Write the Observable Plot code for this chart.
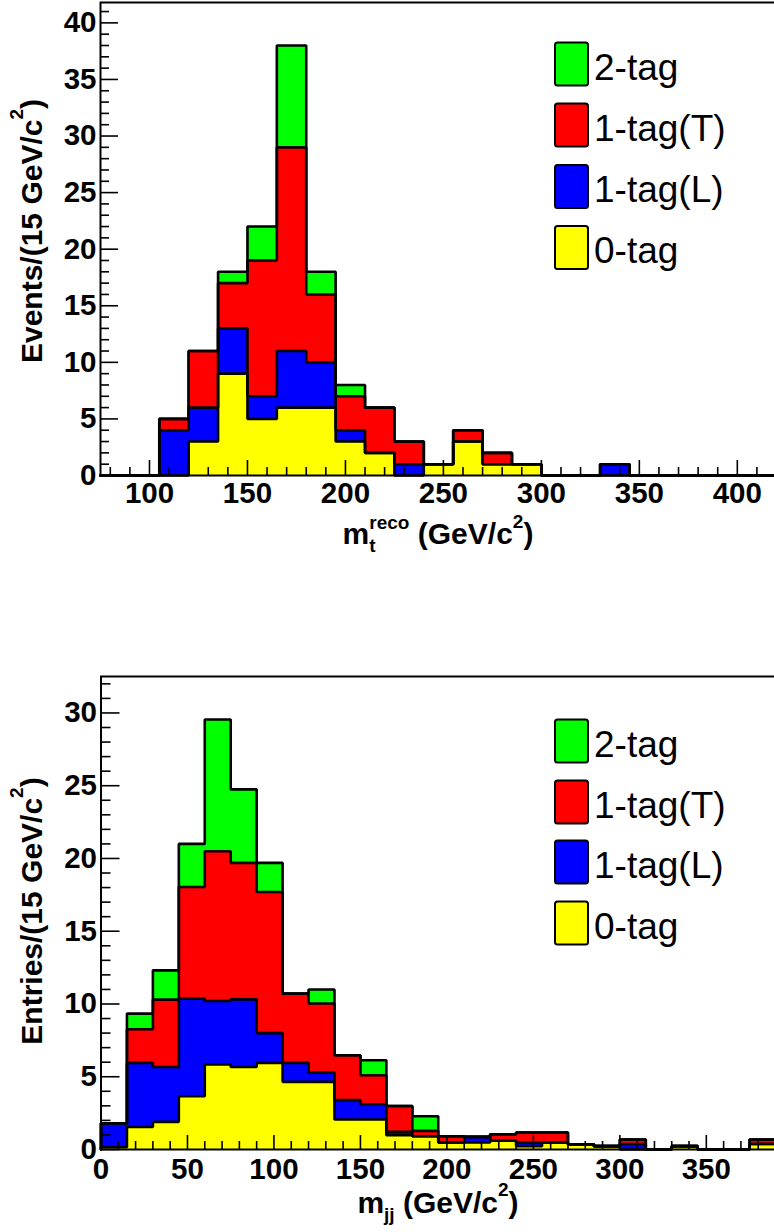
<!DOCTYPE html>
<html><head><meta charset="utf-8">
<script src="https://cdn.jsdelivr.net/npm/d3@7"></script>
<script src="https://cdn.jsdelivr.net/npm/@observablehq/plot@0.6"></script>
<style>
html,body{margin:0;padding:0;background:#fff;overflow:hidden;}
#wrap{width:774px;}
#wrap svg{display:block;}
</style></head><body><div id="wrap"></div>
<script>
const FONT = "Liberation Sans, Arial, Helvetica, sans-serif";
const tagNames = ["0-tag", "1-tag(L)", "1-tag(T)", "2-tag"];
const tagColors = ["#ffff00", "#0000ff", "#ff0000", "#00ff00"];
const binWidth = 15;

// ---- top panel: m_t^reco ----
const topBinLow = [75,90,105,120,135,150,165,180,195,210,225,240,255,270,285,300,315,330,345,360,375,390,405];
const top0tag  = [0,0,0,3,9,5,6,6,3,2,0,1,3,1,1,0,0,0,0,0,0,0,0];
const top1tagL = [0,0,4,3,4,2,5,4,1,0,1,0,0,0,0,0,0,1,0,0,0,0,0];
const top1tagT = [0,0,1,5,4,12,18,6,3,4,2,0,1,1,0,0,0,0,0,0,0,0,0];
const top2tag  = [0,0,0,0,1,3,9,2,1,0,0,0,0,0,0,0,0,0,0,0,0,0,0];
const topXTicks = [100,150,200,250,300,350,400];
const topYTicks = [0,5,10,15,20,25,30,35,40];

// ---- bottom panel: m_jj ----
const botBinLow = [0,15,30,45,60,75,90,105,120,135,150,165,180,195,210,225,240,255,270,285,300,315,330,345,360,375];
const bot0tag  = [0.15,1.55,1.9,3.66,5.84,5.67,5.95,4.65,4.65,2.06,2.06,0.98,0.91,0.48,0.48,0.6,0.23,0.48,0.36,0.23,0,0,0.23,0,0,0.38];
const bot1tagL = [1.65,4.4,3.77,6.71,4.36,4.65,2.05,1.3,0.64,1.33,1.05,0.23,0,0,0.39,0,0.25,0,0,0,0.38,0,0,0,0,0];
const bot1tagT = [0,2.31,4.63,7.67,10.3,9.38,9.7,4.76,4.74,3.09,1.99,1.78,0.37,0.43,0,0.45,0.69,0.69,0,0,0.31,0,0,0,0,0.31];
const bot2tag  = [0,1.08,2.01,2.96,9.05,5.05,2.0,0,0.97,0,1.03,0,1.01,0,0,0,0,0,0,0,0,0,0,0,0,0];
const botXTicks = [0,50,100,150,200,250,300,350];
const botYTicks = [0,5,10,15,20,25,30];

function makeChart(cfg) {
  const {binLow, series, xTicks, yTicks, xMinorStep, yMinorStep, height, marginTop, marginBottom, marginLeft, marginRight} = cfg;
  const n = binLow.length;
  const xDomain = [binLow[0], binLow[n - 1] + binWidth];
  let run = new Array(n).fill(0);
  const cum = series.map(s => (run = run.map((v, i) => v + s[i])));
  const yMax = d3.max(cum[cum.length - 1]) * 1.1;
  const pts = cum.map(c => {
    const p = [{x: binLow[0], y: 0}];
    for (let i = 0; i < n; i++) p.push({x: binLow[i], y: c[i]});
    p.push({x: xDomain[1], y: c[n - 1]});
    p.push({x: xDomain[1], y: 0});
    return p;
  });
  const plotW = 774 - marginLeft - marginRight;
  const plotH = height - marginTop - marginBottom;
  const xMinor = d3.range(Math.ceil(xDomain[0] / xMinorStep) * xMinorStep, xDomain[1] + 1e-9, xMinorStep).filter(v => !xTicks.includes(v));
  const yMinor = d3.range(0, yMax + 1e-9, yMinorStep).filter(v => !yTicks.includes(v));
  const marks = [];
  for (let k = cum.length - 1; k >= 0; k--)
    marks.push(Plot.areaY(pts[k], {x: "x", y: "y", curve: "step-after", fill: tagColors[k]}));
  for (let k = cum.length - 1; k >= 0; k--)
    marks.push(Plot.lineY(pts[k], {x: "x", y: "y", curve: "step-after", stroke: "black", strokeWidth: 2.6, strokeLinejoin: "miter"}));
  marks.push(Plot.tickX(xMinor, {x: d => d, stroke: "black", strokeWidth: 1.6, insetTop: plotH - cfg.xMinorLen}));
  marks.push(Plot.tickX(xTicks, {x: d => d, stroke: "black", strokeWidth: 1.6, insetTop: plotH - cfg.xMajorLen}));
  marks.push(Plot.tickY(yMinor, {y: d => d, stroke: "black", strokeWidth: 1.6, insetRight: plotW - cfg.yMinorLen}));
  marks.push(Plot.tickY(yTicks, {y: d => d, stroke: "black", strokeWidth: 1.6, insetRight: plotW - cfg.yMajorLen}));
  marks.push(Plot.frame({stroke: "black", strokeWidth: 2}));
  marks.push(Plot.text(xTicks, {x: d => d, y: d => 0, text: d => String(d), lineAnchor: "top", dy: cfg.xLabelDy, fontSize: 29.5, fontWeight: "bold", fontFamily: FONT, fill: "black"}));
  marks.push(Plot.text(yTicks, {x: d => xDomain[0], y: d => d, text: d => String(d), textAnchor: "end", dx: -4, fontSize: 29.5, fontWeight: "bold", fontFamily: FONT, fill: "black"}));
  const svg = Plot.plot({
    width: 774, height, marginTop, marginBottom, marginLeft, marginRight,
    x: {domain: xDomain, axis: null},
    y: {domain: [0, yMax], axis: null},
    style: {background: "white", fontFamily: FONT, maxWidth: "none"},
    marks
  });
  const s = d3.select(svg);
  function richText(g, segs) {
    segs.forEach(sg => {
      const t = g.append("tspan").text(sg.t).attr("font-size", sg.size);
      if (sg.dx) t.attr("dx", sg.dx);
      if (sg.dy) t.attr("dy", sg.dy);
    });
  }
  const xt = s.append("text").attr("x", cfg.xTitleX).attr("y", cfg.xTitleY)
    .attr("text-anchor", "middle").attr("font-family", FONT).attr("font-weight", "bold").attr("fill", "black");
  richText(xt, cfg.xTitle);
  const yt = s.append("text").attr("transform", `translate(${cfg.yTitleX},${cfg.yTitleY}) rotate(-90)`)
    .attr("text-anchor", "middle").attr("font-family", FONT).attr("font-weight", "bold").attr("fill", "black");
  richText(yt, cfg.yTitle);
  // legend
  const order = [3, 2, 1, 0];
  order.forEach((k, i) => {
    const cy = cfg.legendRows[i];
    s.append("rect").attr("x", 555).attr("y", cy - 21.5).attr("width", 33).attr("height", 43)
      .attr("rx", 2.5).attr("fill", tagColors[k]).attr("stroke", "black").attr("stroke-width", 2);
    s.append("text").attr("x", 594).attr("y", cy + 15.5).attr("font-family", FONT)
      .attr("text-anchor", "start").attr("font-weight", "normal")
      .attr("font-size", 37).attr("fill", "black").text(tagNames[k]);
  });
  return svg;
}

const wrap = document.getElementById("wrap");
wrap.appendChild(makeChart({
  binLow: topBinLow, series: [top0tag, top1tagL, top1tagT, top2tag],
  xTicks: topXTicks, yTicks: topYTicks, xMinorStep: 10, yMinorStep: 1,
  height: 616, marginTop: 2, marginBottom: 141, marginLeft: 100, marginRight: -2,
  xMajorLen: 15, xMinorLen: 8, yMajorLen: 18, yMinorLen: 9, xLabelDy: 7,
  xTitleX: 438, xTitleY: 544,
  xTitle: [{t: "m", size: 30}, {t: "t", size: 19, dy: 8}, {t: "reco", size: 19, dx: -6.3, dy: -23},
           {t: " (GeV/c", size: 30, dy: 15}, {t: "2", size: 19, dy: -16}, {t: ")", size: 30, dy: 16}],
  yTitleX: 42, yTitleY: 231,
  yTitle: [{t: "Events/(15 GeV/c", size: 30}, {t: "2", size: 19, dy: -19}, {t: ")", size: 30, dy: 19}],
  legendRows: [64, 125, 186.5, 247.5]
}));
wrap.appendChild(makeChart({
  binLow: botBinLow, series: [bot0tag, bot1tagL, bot1tagT, bot2tag],
  xTicks: botXTicks, yTicks: botYTicks, xMinorStep: 10, yMinorStep: 1,
  height: 616, marginTop: 60, marginBottom: 83, marginLeft: 100.5, marginRight: -1,
  xMajorLen: 14, xMinorLen: 8, yMajorLen: 19, yMinorLen: 10, xLabelDy: 9,
  xTitleX: 438, xTitleY: 597,
  xTitle: [{t: "m", size: 30}, {t: "jj", size: 19, dy: 8}, {t: " (GeV/c", size: 30, dy: -8},
           {t: "2", size: 19, dy: -17}, {t: ")", size: 30, dy: 17}],
  yTitleX: 42, yTitleY: 295,
  yTitle: [{t: "Entries/(15 GeV/c", size: 30}, {t: "2", size: 19, dy: -19}, {t: ")", size: 30, dy: 19}],
  legendRows: [125, 186, 246, 307]
}));
</script></body></html>
